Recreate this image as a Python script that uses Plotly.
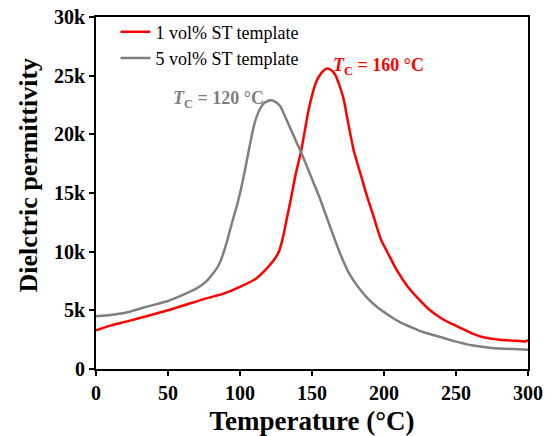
import plotly.graph_objects as go

# 1 vol% ST template (red)
temp_1vol = [0, 10, 23, 35, 50, 63, 76, 88, 100, 111, 118, 123, 127, 130, 132, 135, 139, 142,
             145, 147, 150, 153, 157, 160, 163, 166, 169, 172, 174, 179, 184, 188, 192, 195,
             198, 203, 209, 216, 223, 232, 240, 246, 255, 262, 269, 280, 292, 298, 300]
eps_1vol = [3.3, 3.7, 4.1, 4.5, 5.0, 5.5, 6.0, 6.4, 7.0, 7.7, 8.5, 9.2, 10.0, 11.3, 12.5, 14.3, 16.8, 18.3,
            20.3, 21.7, 23.3, 24.5, 25.3, 25.6, 25.5, 25.1, 24.2, 23.0, 21.7, 18.6, 16.5, 14.8, 13.3, 12.1,
            11.0, 9.8, 8.4, 7.1, 6.1, 5.0, 4.3, 3.9, 3.4, 3.0, 2.7, 2.5, 2.4, 2.35, 2.45]

# 5 vol% ST template (gray)
temp_5vol = [0, 10, 23, 35, 50, 60, 69, 76, 81, 85, 88, 91, 95, 98, 101, 104, 107, 110, 114, 117,
             121, 124, 128, 131, 135, 139, 143, 147, 151, 155, 160, 165, 170, 176, 182, 188, 195,
             203, 211, 220, 227, 234, 248, 262, 275, 290, 300]
eps_5vol = [4.5, 4.6, 4.86, 5.3, 5.8, 6.3, 6.8, 7.4, 8.1, 8.8, 9.7, 10.9, 12.7, 14.0, 15.5, 17.3, 19.2, 20.9, 22.2, 22.7,
            22.9, 22.8, 22.4, 21.6, 20.5, 19.4, 18.3, 17.1, 15.9, 14.7, 13.0, 11.3, 9.7, 8.1, 7.0, 6.1, 5.3,
            4.6, 4.0, 3.5, 3.15, 2.9, 2.4, 2.0, 1.8, 1.7, 1.65]

x_ticks = [0, 50, 100, 150, 200, 250, 300]
y_ticks = [0, 5, 10, 15, 20, 25, 30]
y_tick_labels = ["0", "5k", "10k", "15k", "20k", "25k", "30k"]

SERIF = "Liberation Serif"
RED = "#ff0000"
GRAY = "#7f7f7f"

fig = go.Figure()

fig.add_trace(go.Scatter(
    x=temp_1vol, y=eps_1vol, mode="lines",
    name="1 vol% ST template",
    line=dict(color=RED, width=2.5, shape="spline", smoothing=0.5),
))
fig.add_trace(go.Scatter(
    x=temp_5vol, y=eps_5vol, mode="lines",
    name="5 vol% ST template",
    line=dict(color=GRAY, width=2.5, shape="spline", smoothing=0.5),
))

axis_common = dict(
    showgrid=False,
    zeroline=False,
    showline=True,
    linecolor="black",
    linewidth=2,
    mirror=True,
    ticks="outside",
    ticklen=5,
    tickwidth=2,
    tickcolor="black",
    automargin=False,
    ticklabeloverflow="allow",
    tickfont=dict(family=SERIF, size=20, color="black", weight="bold"),
)

fig.update_xaxes(
    range=[0, 300],
    tickvals=x_ticks,
    title=dict(text="Temperature (°C)", standoff=14,
               font=dict(family=SERIF, size=27, color="black", weight="bold")),
    **axis_common,
)
fig.update_yaxes(
    range=[0, 30],
    tickvals=y_ticks,
    ticktext=y_tick_labels,
    **axis_common,
)

# y title sits a little above the middle of the axis in the original
fig.add_annotation(
    x=-0.157, y=0.55, xref="paper", yref="paper",
    xanchor="center", yanchor="middle",
    text="<b>Dielctric permittivity</b>",
    textangle=-90,
    showarrow=False,
    font=dict(family=SERIF, size=26, color="black"),
)

# Curie temperature labels
fig.add_annotation(
    x=85, y=23.0, xref="x", yref="y",
    text="<b><i>T</i><sub>C</sub> = 120 °C</b>",
    showarrow=False,
    font=dict(family=SERIF, size=18, color=GRAY),
)
fig.add_annotation(
    x=196, y=25.8, xref="x", yref="y",
    text="<b><i>T</i><sub>C</sub> = 160 °C</b>",
    showarrow=False,
    font=dict(family=SERIF, size=18, color=RED),
)

fig.update_layout(
    width=551,
    height=436,
    margin=dict(l=96, r=23, t=17, b=67),
    plot_bgcolor="white",
    paper_bgcolor="white",
    legend=dict(
        x=0.045, y=1.01, xanchor="left", yanchor="top",
        bgcolor="rgba(0,0,0,0)",
        font=dict(family=SERIF, size=18, color="black"),
        tracegroupgap=0,
    ),
)

# drop the browser's default 8px body margin so the figure fills the window
fig.write_html("out.html", config={"displayModeBar": False},
               post_script="document.body.style.margin = '0';")
